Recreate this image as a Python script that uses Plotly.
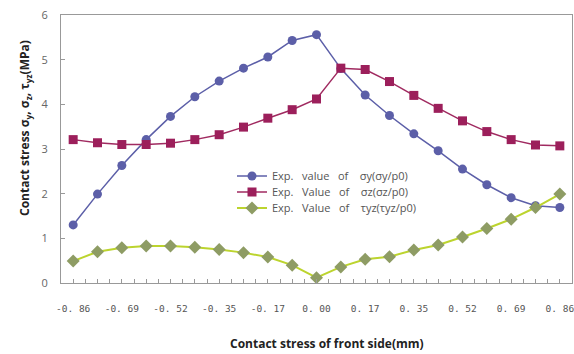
import plotly.graph_objects as go

x_cats = ["-0.86", "-0.774", "-0.688", "-0.602", "-0.516", "-0.43", "-0.344", "-0.258",
          "-0.172", "-0.086", "0.00", "0.086", "0.172", "0.258", "0.344", "0.43",
          "0.516", "0.602", "0.688", "0.774", "0.86"]
tick_labels = ["-0. 86", "-0. 69", "-0. 52", "-0. 35", "-0. 17", "0. 00",
               "0. 17", "0. 35", "0. 52", "0. 69", "0. 86"]

sigma_y = [1.30, 1.99, 2.63, 3.21, 3.73, 4.17, 4.52, 4.81, 5.06, 5.43, 5.56,
           4.80, 4.21, 3.75, 3.34, 2.96, 2.55, 2.20, 1.91, 1.73, 1.69]
sigma_z = [3.21, 3.14, 3.10, 3.10, 3.13, 3.21, 3.32, 3.49, 3.69, 3.88, 4.12,
           4.81, 4.78, 4.51, 4.20, 3.91, 3.63, 3.39, 3.21, 3.09, 3.07]
tau_yz = [0.49, 0.70, 0.79, 0.83, 0.83, 0.80, 0.75, 0.68, 0.58, 0.40, 0.12,
          0.36, 0.53, 0.59, 0.74, 0.85, 1.03, 1.22, 1.43, 1.69, 1.99]

names = ["Exp.&nbsp;&nbsp; value&nbsp;&nbsp; of&nbsp;&nbsp;&nbsp; σy(σy/p0)",
         "Exp.&nbsp;&nbsp; Value&nbsp;&nbsp; of&nbsp;&nbsp;&nbsp; σz(σz/p0)",
         "Exp.&nbsp;&nbsp; Value&nbsp;&nbsp; of&nbsp;&nbsp;&nbsp; τyz(τyz/p0)"]

idx = list(range(len(x_cats)))

L, R, T, B = 61, 2, 15, 71
W, H = 574, 354
pw, ph = W - L - R, H - T - B

fig = go.Figure()
fig.add_trace(go.Scatter(x=idx, y=sigma_y, mode="lines+markers", name=names[0], legend="legend",
                         line=dict(color="#5c5fa8", width=1.5),
                         marker=dict(symbol="circle", size=9, color="#5c5fa8")))
fig.add_trace(go.Scatter(x=idx, y=sigma_z, mode="lines+markers", name=names[1], legend="legend2",
                         line=dict(color="#a02a60", width=1.5),
                         marker=dict(symbol="square", size=9, color="#9c1f5b")))
fig.add_trace(go.Scatter(x=idx, y=tau_yz, mode="lines+markers", name=names[2], legend="legend3",
                         line=dict(color="#bcd42e", width=2),
                         marker=dict(symbol="diamond", size=10, color="#8e9c64")))

tickvals = idx[::2]

def leg(center_px):
    return dict(x=(232 - L) / pw, y=1 - (center_px - T) / ph, xanchor="left", yanchor="middle",
                bgcolor="rgba(0,0,0,0)", itemwidth=30,
                font=dict(size=11, color="#555555", family="Open Sans"))

fig.update_layout(
    width=W, height=H,
    margin=dict(l=L, r=R, t=T, b=B, autoexpand=False),
    paper_bgcolor="white", plot_bgcolor="white",
    showlegend=True,
    legend=leg(176), legend2=leg(192), legend3=leg(208),
    font=dict(family="Open Sans", color="#333333"),
)
fig.update_xaxes(
    range=[-0.5, 20.5], tickmode="array", tickvals=tickvals, ticktext=tick_labels,
    ticks="inside", ticklen=4, tickcolor="#999999", tickangle=0,
    minor=dict(ticks="inside", ticklen=4, tickcolor="#999999", tick0=-0.5, dtick=0.5,
               showgrid=False),
    showline=True, linecolor="#999999", linewidth=1, mirror=True,
    showgrid=False, zeroline=False, automargin=False, ticklabeloverflow="allow",
    ticklabelstandoff=17,
    tickfont=dict(family="DejaVu Sans Mono", size=9.5, color="#555555"),
)
fig.update_yaxes(
    range=[0, 6], dtick=1, ticks="inside", ticklen=4, tickcolor="#999999",
    showline=True, linecolor="#999999", linewidth=1, mirror=True,
    showgrid=False, zeroline=False, automargin=False, ticklabelstandoff=10,
    tickfont=dict(size=11, color="#666666", family="Open Sans"),
)
fig.add_annotation(text="<b>Contact stress of front side(mm)</b>", xref="paper", yref="paper",
                   x=(327 - L) / pw, y=-(343 - (T + ph)) / ph, showarrow=False,
                   xanchor="center", yanchor="middle",
                   font=dict(size=12, color="#222222", family="Open Sans"))
fig.add_annotation(text="<b>Contact stress σ<sub>y</sub>, σ<sub>z</sub>, τ<sub>yz</sub>(MPa)</b>",
                   xref="paper", yref="paper", textangle=-90,
                   x=(25 - L) / pw, y=1 - (128 - T) / ph, showarrow=False,
                   xanchor="center", yanchor="middle",
                   font=dict(size=12, color="#222222", family="Open Sans"))

fig.write_html("out.html", config={"displayModeBar": False},
               post_script="document.body.style.margin='0';document.body.style.overflow='hidden';")
